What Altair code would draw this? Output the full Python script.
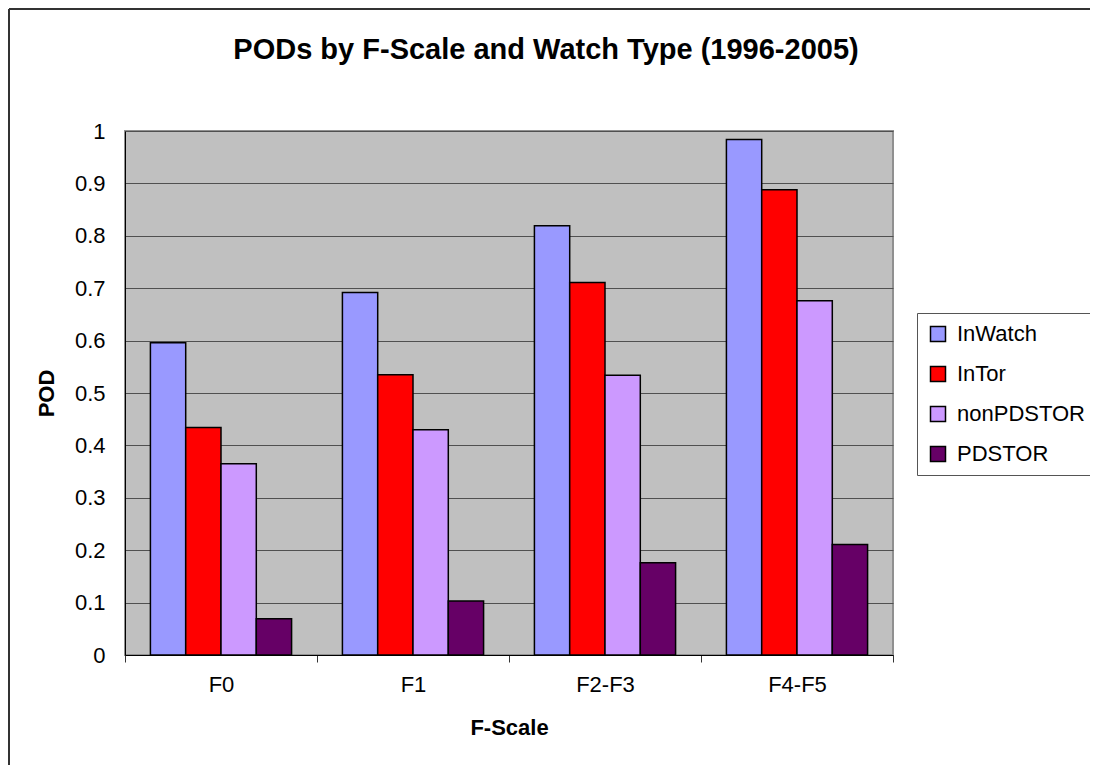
import altair as alt
import pandas as pd

categories = ["F0", "F1", "F2-F3", "F4-F5"]
series = ["InWatch", "InTor", "nonPDSTOR", "PDSTOR"]
inwatch = [0.596, 0.692, 0.819, 0.984]
intor = [0.434, 0.535, 0.711, 0.888]
nonpdstor = [0.365, 0.430, 0.534, 0.676]
pdstor = [0.069, 0.103, 0.176, 0.211]
y_ticks = [0, 0.1, 0.2, 0.3, 0.4, 0.5, 0.6, 0.7, 0.8, 0.9, 1]
colors = ["#9999FF", "#FF0000", "#CC99FF", "#660066"]

rows = []
for name, vals in zip(series, [inwatch, intor, nonpdstor, pdstor]):
    for c, v in zip(categories, vals):
        rows.append({"F-Scale": c, "Type": name, "POD": v})
df = pd.DataFrame(rows)

FONT = "Liberation Sans"

bars = alt.Chart(df).mark_bar(stroke="black", strokeWidth=1.5).encode(
    x=alt.X(
        "F-Scale:N",
        sort=categories,
        scale=alt.Scale(paddingInner=0, paddingOuter=0),
        axis=alt.Axis(
            title="F-Scale",
            labelAngle=0,
            tickBand="extent",
            tickSize=7,
            tickColor="#333333",
            domainColor="black",
            labelFont=FONT,
            labelFontSize=22,
            labelColor="black",
            labelPadding=12,
            titleFont=FONT,
            titleFontSize=22,
            titleFontWeight="bold",
            titleColor="black",
            titlePadding=22,
            grid=False,
        ),
    ),
    xOffset=alt.XOffset(
        "Type:N",
        sort=series,
        scale=alt.Scale(paddingInner=0, paddingOuter=0.72),
    ),
    y=alt.Y(
        "POD:Q",
        scale=alt.Scale(domain=[0, 1], nice=False),
        axis=alt.Axis(
            title="POD",
            values=y_ticks,
            format="~g",
            tickSize=0,
            domainColor="black",
            gridColor="#505050",
            gridWidth=1,
            labelFont=FONT,
            labelFontSize=22,
            labelColor="black",
            labelPadding=20,
            titleFont=FONT,
            titleFontSize=22,
            titleFontWeight="bold",
            titleColor="black",
            titlePadding=16,
        ),
    ),
    color=alt.Color(
        "Type:N",
        sort=series,
        scale=alt.Scale(domain=series, range=colors),
        legend=alt.Legend(
            title=None,
            orient="none",
            legendX=792,
            legendY=182,
            symbolType="square",
            symbolSize=225,
            symbolStrokeColor="black",
            symbolStrokeWidth=1.5,
            labelFont=FONT,
            labelFontSize=22,
            labelColor="black",
            labelOffset=8,
            rowPadding=18,
            padding=10,
            strokeColor="#555555",
            fillColor="white",
        ),
    ),
)

frame = alt.Chart(pd.DataFrame({"k": [0]})).mark_rule(color="#333333", strokeWidth=2)
top_line = frame.encode(x=alt.value(-116), x2=alt.value(965), y=alt.value(-122))
left_line = frame.encode(x=alt.value(-116), y=alt.value(-122), y2=alt.value(640))

chart = (
    alt.layer(bars, top_line, left_line)
    .properties(
        width=768,
        height=524,
        title=alt.TitleParams(
            text="PODs by F-Scale and Watch Type (1996-2005)",
            font=FONT,
            fontSize=29,
            fontWeight="bold",
            color="black",
            anchor="middle",
            baseline="alphabetic",
            dx=37,
            dy=80,
            offset=0,
        ),
        padding={"left": 117, "top": 123, "right": 197, "bottom": 110},
        autosize=alt.AutoSizeParams(type="none"),
    )
    .configure_view(fill="#C0C0C0", stroke="#909090", strokeWidth=2)
)

chart.save("out.html", embed_options={"renderer": "svg", "actions": False})
